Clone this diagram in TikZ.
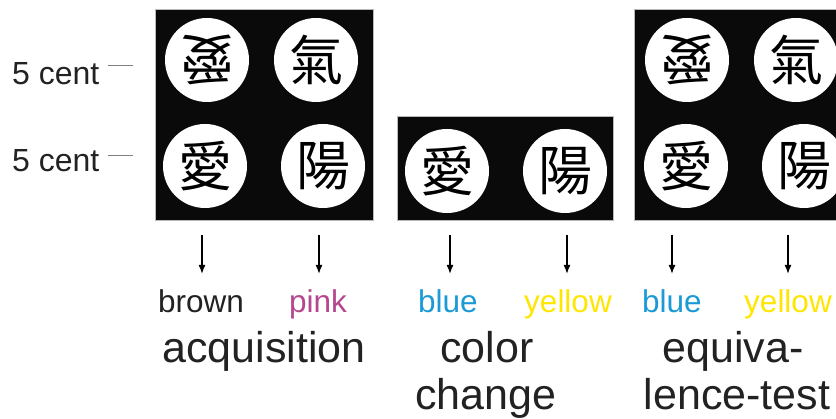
\documentclass[tikz,border=0pt]{standalone}
\usepackage{fontspec}
\setmainfont{Liberation Sans}
\newfontfamily\cjk{Noto Sans CJK TC}
\usetikzlibrary{arrows.meta}
\definecolor{panelblack}{RGB}{10,10,10}
\definecolor{txtgray}{RGB}{34,34,34}
\definecolor{pinkc}{RGB}{181,71,143}
\definecolor{bluec}{RGB}{27,154,214}
\definecolor{yellowc}{RGB}{255,230,0}
\tikzset{
  panel/.style={fill=panelblack, draw=gray!55, line width=0.7pt},
  coin/.style={circle, fill=white, minimum size=84pt, inner sep=0pt, text=black, font=\cjk\fontsize{54}{54}\selectfont},
  arr/.style={-{Latex[length=9pt,width=7pt]}, line width=1.5pt, black},
  lbl/.style={font=\fontsize{31.5}{36}\selectfont, anchor=base, inner sep=0pt},
  phase/.style={font=\fontsize{43}{48}\selectfont, anchor=base, inner sep=0pt, text=txtgray},
  cent/.style={font=\fontsize{32}{36}\selectfont, anchor=base west, inner sep=0pt, text=txtgray},
  tick/.style={draw=gray, line width=0.8pt}
}
\begin{document}
\begin{tikzpicture}[x=1pt,y=-1pt]
\useasboundingbox (0,0) rectangle (836,419);
\clip (0,0) rectangle (836,419);
% panels
\draw[panel] (155,9) rectangle (373,220);
\draw[panel] (397,116) rectangle (613,220);
\draw[panel] (634,9) rectangle (850,220);
% coins
\node[coin, rotate=180] (p1a) at (207,60) {愛};
\node[coin] (p1b) at (316,60) {氣};
\node[coin] (p1c) at (205,166) {愛};
\node[coin] (p1d) at (323,166) {陽};
\node[coin] (p2a) at (447,171) {愛};
\node[coin] (p2b) at (565,171) {陽};
\node[coin, rotate=180] (p3a) at (687,60) {愛};
\node[coin] (p3b) at (796,60) {氣};
\node[coin] (p3c) at (686,166) {愛};
\node[coin] (p3d) at (804,166) {陽};
% 5 cent labels
\node[cent] (c1) at (12,85) {5 cent};
\node[cent] (c2) at (12,172) {5 cent};
\coordinate (t1s) at (108,65); \coordinate (t1e) at (133,65);
\coordinate (t2s) at (108,155); \coordinate (t2e) at (133,155);
\draw[tick] (t1s) -- (t1e);
\draw[tick] (t2s) -- (t2e);
% arrows
\foreach \n/\x in {a1/202,a2/319,a3/450,a4/567,a5/672,a6/788}{
  \coordinate (\n s) at (\x,235);
  \coordinate (\n e) at (\x,274);
  \draw[arr] (\n s) -- (\n e);
}
% colour labels
\node[lbl, text=txtgray] (l1) at (201,313) {brown};
\node[lbl, text=pinkc] (l2) at (318,313) {pink};
\node[lbl, text=bluec] (l3) at (448,313) {blue};
\node[lbl, text=yellowc] (l4) at (568,313) {yellow};
\node[lbl, text=bluec] (l5) at (672,313) {blue};
\node[lbl, text=yellowc] (l6) at (788,313) {yellow};
% phase names
\node[phase] (ph1) at (264,363) {acquisition};
\node[phase] (ph2a) at (487,363) {color};
\node[phase] (ph2b) at (486,410) {change};
\node[phase] (ph3a) at (733,363) {equiva-};
\node[phase] (ph3b) at (737,410) {lence-test};
\end{tikzpicture}
\end{document}
